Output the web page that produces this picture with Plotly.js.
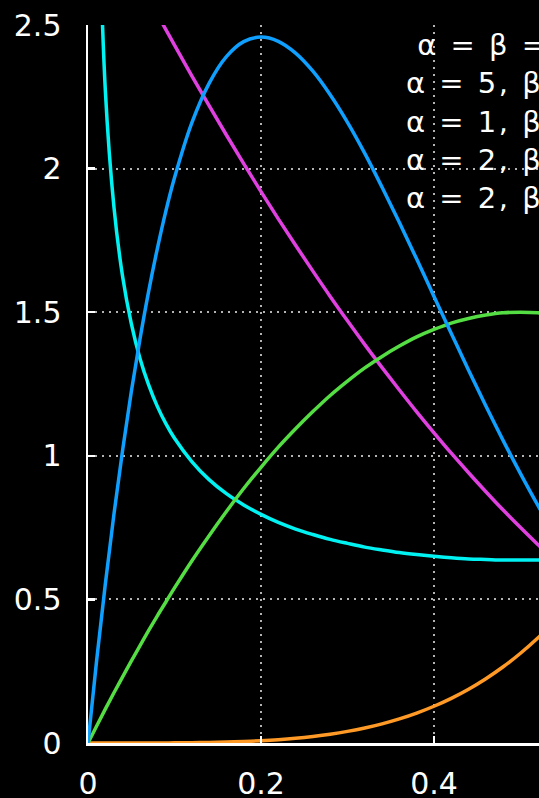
<!DOCTYPE html>
<html>
<head>
<meta charset="utf-8">
<script src="https://cdn.plot.ly/plotly-3.0.1.min.js"></script>
<style>
html, body { margin: 0; padding: 0; background: #000; overflow: hidden; }
#chart { width: 539px; height: 798px; }
#chart .annotation-text { letter-spacing: 2.5px; }
</style>
</head>
<body>
<div id="chart"></div>
<script>
// x sample positions
const xs = [0, 0.01, 0.02, 0.03, 0.04, 0.05, 0.06, 0.07, 0.08, 0.09, 0.10,
  0.12, 0.14, 0.16, 0.18, 0.20, 0.22, 0.24, 0.26, 0.28, 0.30, 0.32, 0.34,
  0.36, 0.38, 0.40, 0.42, 0.44, 0.46, 0.48, 0.50, 0.52, 0.54];

// alpha = beta = 0.5 (cyan)
const yAB05 = [null, 3.199, 2.274, 1.866, 1.624, 1.461, 1.340, 1.248, 1.173, 1.112, 1.061,
  0.980, 0.917, 0.868, 0.829, 0.796, 0.768, 0.745, 0.726, 0.709, 0.695, 0.682, 0.672,
  0.663, 0.656, 0.650, 0.645, 0.641, 0.639, 0.637, 0.637, 0.637, 0.639];

// alpha = 5, beta = 1 (orange)
const yA5B1 = [0, 0, 0, 0, 0, 0, 0.0001, 0.0001, 0.0002, 0.0003, 0.0005,
  0.0010, 0.0019, 0.0033, 0.0052, 0.0080, 0.0117, 0.0166, 0.0229, 0.0307, 0.0405, 0.0524, 0.0668,
  0.0840, 0.1043, 0.128, 0.1556, 0.1874, 0.2239, 0.2654, 0.3125, 0.3656, 0.4252];

// alpha = 1, beta = 3 (magenta)
const yA1B3 = [3.0, 2.940, 2.881, 2.823, 2.765, 2.708, 2.651, 2.595, 2.539, 2.484, 2.430,
  2.323, 2.219, 2.117, 2.017, 1.920, 1.825, 1.733, 1.643, 1.555, 1.470, 1.387, 1.307,
  1.229, 1.153, 1.080, 1.009, 0.941, 0.875, 0.811, 0.750, 0.691, 0.635];

// alpha = 2, beta = 2 (green)
const yA2B2 = [0, 0.059, 0.118, 0.175, 0.230, 0.285, 0.338, 0.391, 0.442, 0.491, 0.540,
  0.634, 0.722, 0.806, 0.886, 0.960, 1.030, 1.094, 1.154, 1.210, 1.260, 1.306, 1.346,
  1.382, 1.414, 1.440, 1.462, 1.478, 1.490, 1.498, 1.500, 1.498, 1.490];

// alpha = 2, beta = 5 (blue)
const yA2B5 = [0, 0.288, 0.553, 0.797, 1.019, 1.222, 1.405, 1.571, 1.719, 1.852, 1.968,
  2.159, 2.297, 2.390, 2.442, 2.458, 2.443, 2.402, 2.339, 2.257, 2.161, 2.053, 1.935,
  1.812, 1.685, 1.555, 1.426, 1.298, 1.173, 1.053, 0.938, 0.828, 0.725];

const legendLabels = ['α = β = 0.5', 'α = 5, β = 1', 'α = 1, β = 3', 'α = 2, β = 2', 'α = 2, β = 5'];
const seriesY = [yAB05, yA5B1, yA1B3, yA2B2, yA2B5];
const colors = ['#00f2f2', '#ff9a26', '#e040e0', '#55dd44', '#0fa0ff'];

const xTicks = [0, 0.2, 0.4];
const xTickText = ['0', '0.2', '0.4'];
const yTicks = [0, 0.5, 1, 1.5, 2, 2.5];
const yTickText = ['0', '0.5', '1', '1.5', '2', '2.5'];

const traces = seriesY.map((ys, i) => ({
  x: xs, y: ys, type: 'scatter', mode: 'lines', name: legendLabels[i],
  line: { color: colors[i], width: 3.5, shape: 'spline', smoothing: 1 }, connectgaps: false
}));

const font = { family: 'DejaVu Sans, sans-serif', color: '#ffffff', size: 30 };
const legendFont = { family: 'DejaVu Sans, sans-serif', color: '#ffffff', size: 29 };

const legendX = [0.3943, 0.3828, 0.3828, 0.3828, 0.3828];
const legendY = [2.429, 2.297, 2.164, 2.029, 1.897];
const annotations = legendLabels.map((t, i) => ({
  text: t, x: legendX[i], y: legendY[i], xref: 'x', yref: 'y',
  xanchor: 'left', yanchor: 'middle', showarrow: false, font: legendFont
}));

const gridStyle = { showgrid: true, gridcolor: 'rgba(210,210,210,0.85)', griddash: '2px,5px', gridwidth: 2 };

const layout = {
  width: 539, height: 798,
  margin: { l: 88, r: 0, t: 25, b: 55 },
  paper_bgcolor: '#000000', plot_bgcolor: '#000000',
  showlegend: false,
  font: font,
  xaxis: Object.assign({
    range: [0, 0.5214], tickvals: xTicks, ticktext: xTickText,
    showline: true, linecolor: '#ffffff', linewidth: 2.5,
    ticks: 'inside', ticklen: 7, tickwidth: 2.5, tickcolor: '#ffffff',
    zeroline: false, ticklabelstandoff: 12, tickfont: font
  }, gridStyle),
  yaxis: Object.assign({
    range: [0, 2.5], tickvals: yTicks, ticktext: yTickText,
    showline: true, linecolor: '#ffffff', linewidth: 2.5,
    ticks: 'inside', ticklen: 7, tickwidth: 2.5, tickcolor: '#ffffff',
    zeroline: false, ticklabelstandoff: 18, tickfont: font
  }, gridStyle),
  annotations: annotations
};

Plotly.newPlot('chart', traces, layout, { displayModeBar: false, staticPlot: true });
</script>
</body>
</html>
